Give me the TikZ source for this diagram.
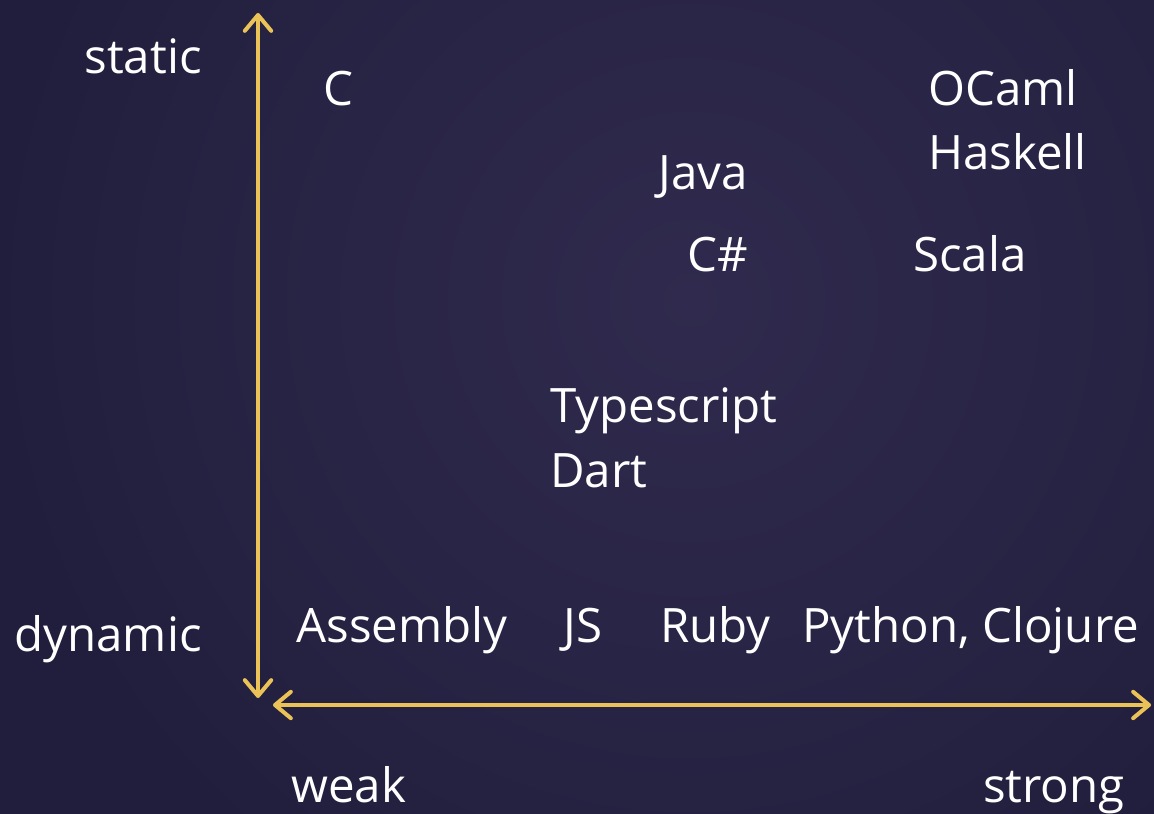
\documentclass[tikz,border=0pt]{standalone}
\usepackage{fontspec}
\setmainfont{Open Sans}
\usetikzlibrary{arrows.meta}
\definecolor{bgin}{HTML}{302B4E}
\definecolor{bgout}{HTML}{211E3D}
\definecolor{axis}{HTML}{EAC257}
\tikzset{>={Straight Barb[length=9pt,width=15pt,line cap=round,line join=round]},
every picture/.append style={
    line join=round,
    line cap=round
  },
lang/.style={anchor=base west,inner sep=0pt,text=white,font=\fontsize{27}{32}\selectfont},
axisline/.style={draw=axis,line width=2.3pt,<->}}
\begin{document}
\begin{tikzpicture}[x=0.02cm,y=-0.02cm]
        \useasboundingbox (0,0) rectangle (1154,814);
        \begin{scope}
          \clip (0,0) rectangle (1154,814);
          \fill [bgout] (0,0) rectangle (1154,814);
          \shade [inner color=bgin,outer color=bgout] (690,300) circle (700);
        \end{scope}
        \coordinate (ytop) at (258,13);
        \coordinate (ybot) at (258,698);
        \coordinate (xleft) at (273,705);
        \coordinate (xright) at (1151,705);
        \path [axisline] (ytop) -- (ybot);
        \path [axisline] (xleft) -- (xright);
        \node [lang,anchor=base east] (static) at (202,74) {static};
        \node [lang,anchor=base east] (dynamic) at (202,651) {dynamic};
        \node [lang] (weak) at (291,802) {weak};
        \node [lang,anchor=base east] (strong) at (1125,802) {strong};
        \node [lang] (c) at (323,106) {C};
        \node [lang] (ocaml) at (928,106) {OCaml};
        \node [lang] (haskell) at (928,170) {Haskell};
        \node [lang] (java) at (658,190) {Java};
        \node [lang] (csharp) at (687,272) {C\#};
        \node [lang] (scala) at (913,272) {Scala};
        \node [lang] (typescript) at (550,423) {Typescript};
        \node [lang] (dart) at (550,487) {Dart};
        \node [lang] (assembly) at (296,642) {Assembly};
        \node [lang] (js) at (563,642) {JS};
        \node [lang] (ruby) at (660,642) {Ruby};
        \node [lang] (python) at (802,642) {Python, Clojure};
    \end{tikzpicture}
\end{document}
